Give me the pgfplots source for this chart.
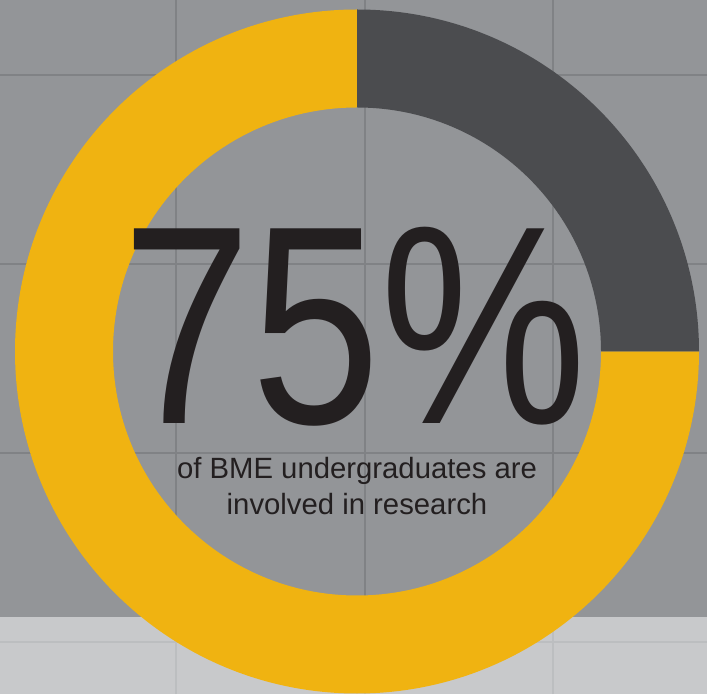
\documentclass[border=0pt]{standalone}
\usepackage{fontspec}
\setmainfont{Liberation Sans}
\usepackage{pgfplots}
\pgfplotsset{compat=1.18}
\usepackage{pgfplotstable}
\usetikzlibrary{calc}

\definecolor{bggray}{HTML}{939598}
\definecolor{gridgray}{HTML}{808285}
\definecolor{bandgray}{HTML}{C8C9CB}
\definecolor{bandgrid}{HTML}{BCBEC0}
\definecolor{donutyellow}{HTML}{F0B311}
\definecolor{donutdark}{HTML}{4B4C4F}
\definecolor{textblack}{HTML}{231F20}

% share of BME undergraduates involved in research
\pgfplotstableread{
group share
research 75
other 25
}\donutdata
\pgfplotstablegetelem{0}{share}\of\donutdata\pgfmathsetmacro{\shareA}{\pgfplotsretval}
\pgfplotstablegetelem{1}{share}\of\donutdata\pgfmathsetmacro{\shareB}{\pgfplotsretval}
\pgfmathsetmacro{\angA}{\shareA/(\shareA+\shareB)*360}
\pgfmathsetmacro{\angB}{\shareB/(\shareA+\shareB)*360}
\pgfmathsetmacro{\endA}{90+\angA}
\pgfmathsetmacro{\endB}{90-\angB}

\begin{document}
\begin{tikzpicture}
\begin{axis}[
	scale only axis,
	width=707pt, height=694pt,
	xmin=0, xmax=707, ymin=0, ymax=694,
	xtick=\empty, ytick=\empty,
	hide axis,
	clip=false
]
% background and grid
\fill[bggray] (axis cs:0,77) rectangle (axis cs:707,694);
\fill[bandgray] (axis cs:0,0) rectangle (axis cs:707,77);
\pgfplotsinvokeforeach{176,364.5,553}{
	\draw[gridgray, line width=2pt] (axis cs:#1,77) -- (axis cs:#1,694);
	\draw[bandgrid, line width=2pt] (axis cs:#1,0) -- (axis cs:#1,77);
}
\pgfplotsinvokeforeach{619,430,241}{
	\draw[gridgray, line width=2pt] (axis cs:0,#1) -- (axis cs:707,#1);
}
\draw[bandgrid, line width=2pt] (axis cs:0,52) -- (axis cs:707,52);

% donut
\coordinate (C) at (axis cs:357,342.5);
\fill[donutyellow] ($(C)+(90:342pt)$) arc[start angle=90, delta angle=\angA, radius=342pt]
	-- ($(C)+(\endA:244pt)$) arc[start angle=\endA, delta angle=-\angA, radius=244pt] -- cycle;
\fill[donutdark] ($(C)+(90:342pt)$) arc[start angle=90, delta angle=-\angB, radius=342pt]
	-- ($(C)+(\endB:244pt)$) arc[start angle=\endB, delta angle=\angB, radius=244pt] -- cycle;

% labels
\node[anchor=base, text=textblack, inner sep=0pt, xscale=0.82, text depth=0pt,
	font=\fontsize{283}{283}\selectfont] at (axis cs:355,270) {75\%};
\node[anchor=base, text=textblack, inner sep=0pt,
	font=\fontsize{29.3}{34}\selectfont] at (axis cs:357,215) {of BME undergraduates are};
\node[anchor=base, text=textblack, inner sep=0pt,
	font=\fontsize{29.3}{34}\selectfont] at (axis cs:357,179) {involved in research};
\end{axis}
\pgfresetboundingbox
\useasboundingbox (current axis.south west) rectangle (current axis.north east);
\end{tikzpicture}
\end{document}
